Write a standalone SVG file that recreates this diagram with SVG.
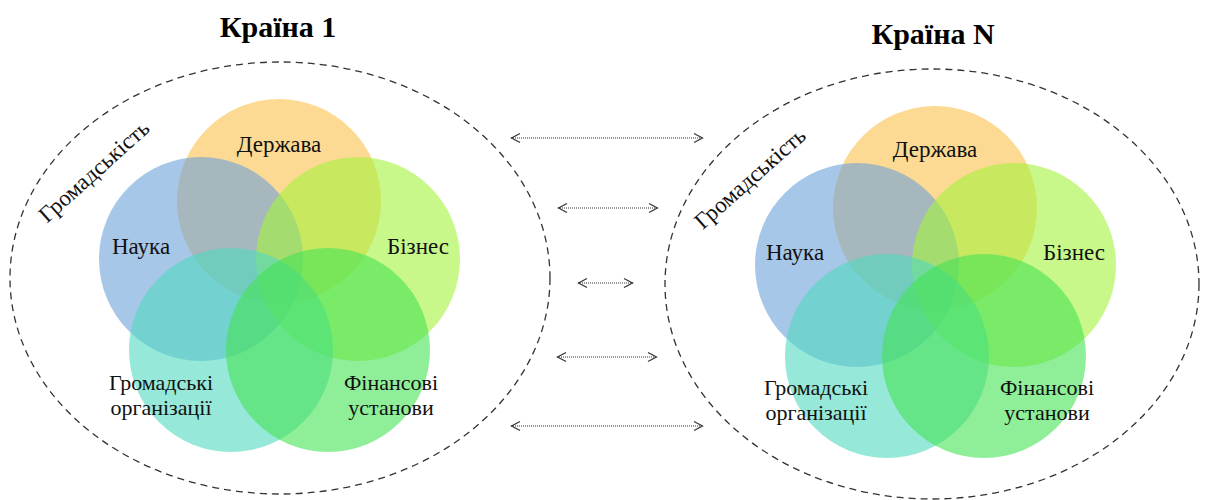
<svg xmlns="http://www.w3.org/2000/svg" width="1207" height="500" viewBox="0 0 1207 500">
<style>
.title{font-family:"Liberation Serif",serif;font-weight:bold;font-size:30px;fill:#000;text-anchor:middle}
.lbl{font-family:"Liberation Serif",serif;font-size:23px;fill:#111;text-anchor:middle}
.lbl2{font-family:"Liberation Serif",serif;font-size:22px;fill:#111;text-anchor:middle}
.soc{font-family:"Liberation Serif",serif;font-size:23px;fill:#111;text-anchor:middle}
.env{fill:none;stroke:#333;stroke-width:1.3;stroke-dasharray:7 5}
.c{fill-opacity:0.6}
.st{fill:#FBC14D}.sc{fill:#6CA2D9}.bz{fill:#A5F33C}.go{fill:#50D9BE}.fi{fill:#44E353}
.link{fill:none;stroke:#333;stroke-width:1;stroke-dasharray:1 1;marker-start:url(#ah);marker-end:url(#ah)}
</style>
<defs>
<marker id="ah" viewBox="-11 -6 12 12" refX="0" refY="0" markerWidth="12" markerHeight="12" markerUnits="userSpaceOnUse" orient="auto-start-reverse">
<path d="M-9,-4.5 L-0.5,0 L-9,4.5" fill="none" stroke="#333" stroke-width="1.2"/>
</marker>
</defs>

<g id="country1">
<text class="title" x="278" y="37">Країна 1</text>
<ellipse class="env" cx="280" cy="278" rx="270" ry="216"/>
<text class="soc" transform="translate(99,177) rotate(-42)">Громадськість</text>
<g id="c1-derzhava"><circle class="c st" cx="279" cy="201" r="102"/></g>
<g id="c1-nauka"><circle class="c sc" cx="201" cy="259" r="102"/></g>
<g id="c1-biznes"><circle class="c bz" cx="358" cy="259" r="102"/></g>
<g id="c1-gromadski"><circle class="c go" cx="231" cy="350" r="102"/></g>
<g id="c1-finansovi"><circle class="c fi" cx="328" cy="350" r="102"/></g>
<text class="lbl" x="279" y="152">Держава</text>
<text class="lbl" x="141" y="254">Наука</text>
<text class="lbl" x="418" y="254">Бізнес</text>
<text class="lbl2" x="161" y="390">Громадські<tspan x="161" dy="24.5">організації</tspan></text>
<text class="lbl2" x="391" y="390">Фінансові<tspan x="391" dy="24.5">установи</tspan></text>
</g>

<g id="countryN">
<text class="title" x="933" y="44">Країна N</text>
<ellipse class="env" cx="932" cy="284" rx="267" ry="215"/>
<text class="soc" transform="translate(755,184) rotate(-41.5)">Громадськість</text>
<g id="cN-derzhava"><circle class="c st" cx="935" cy="208" r="102"/></g>
<g id="cN-nauka"><circle class="c sc" cx="857" cy="265" r="102"/></g>
<g id="cN-biznes"><circle class="c bz" cx="1014" cy="265" r="102"/></g>
<g id="cN-gromadski"><circle class="c go" cx="887" cy="356" r="102"/></g>
<g id="cN-finansovi"><circle class="c fi" cx="984" cy="356" r="102"/></g>
<text class="lbl" x="935" y="157">Держава</text>
<text class="lbl" x="795" y="260">Наука</text>
<text class="lbl" x="1074" y="260">Бізнес</text>
<text class="lbl2" x="816" y="395">Громадські<tspan x="816" dy="24.5">організації</tspan></text>
<text class="lbl2" x="1047" y="395">Фінансові<tspan x="1047" dy="24.5">установи</tspan></text>
</g>

<g id="connectors">
<line class="link" x1="511" y1="138" x2="703" y2="138"/>
<line class="link" x1="558" y1="208" x2="658" y2="208"/>
<line class="link" x1="578" y1="283" x2="633" y2="283"/>
<line class="link" x1="557" y1="357" x2="657" y2="357"/>
<line class="link" x1="511" y1="426" x2="703" y2="426"/>
</g>
</svg>
